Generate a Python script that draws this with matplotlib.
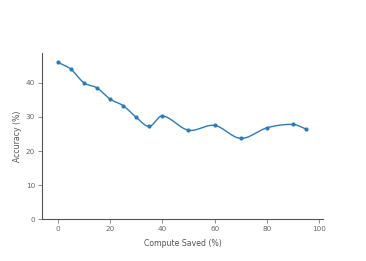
import numpy as np
import matplotlib
matplotlib.use("Agg")
import matplotlib.pyplot as plt

compute_saved = [0, 5, 10, 15, 20, 25, 30, 35, 40, 50, 60, 70, 80, 90, 95]
accuracy = [46.0, 44.0, 40.0, 38.5, 35.2, 33.3, 29.9, 27.2, 30.3, 26.1, 27.5, 23.7, 26.8, 27.8, 26.4]
x_ticks = [0, 20, 40, 60, 80, 100]
y_ticks = [0, 10, 20, 30, 40]


def smooth_curve(xs, ys, n=40):
    # cardinal-style Hermite spline parameterised in x (draws the line only)
    xs = np.asarray(xs, float)
    ys = np.asarray(ys, float)
    m = np.empty_like(ys)
    m[1:-1] = (ys[2:] - ys[:-2]) / (xs[2:] - xs[:-2])
    m[0] = (ys[1] - ys[0]) / (xs[1] - xs[0])
    m[-1] = (ys[-1] - ys[-2]) / (xs[-1] - xs[-2])
    out_x, out_y = [], []
    for i in range(len(xs) - 1):
        h = xs[i + 1] - xs[i]
        t = np.linspace(0, 1, n, endpoint=False)
        h00 = 2 * t**3 - 3 * t**2 + 1
        h10 = t**3 - 2 * t**2 + t
        h01 = -2 * t**3 + 3 * t**2
        h11 = t**3 - t**2
        out_x.extend(xs[i] + t * h)
        out_y.extend(h00 * ys[i] + h10 * h * m[i] + h01 * ys[i + 1] + h11 * h * m[i + 1])
    out_x.append(xs[-1])
    out_y.append(ys[-1])
    return np.array(out_x), np.array(out_y)


fig = plt.figure(figsize=(3.66, 2.61), dpi=100)
ax = fig.add_axes([0.1148, 0.1598, 0.7682, 0.6382])

sx, sy = smooth_curve(compute_saved, accuracy)
color = "#2b7bba"
ax.plot(sx, sy, color=color, lw=1.0)
ax.plot(compute_saved, accuracy, "o", color=color, ms=2.0)

ax.set_xlim(-6, 101.5)
ax.set_ylim(0, 48.8)
ax.set_xticks(x_ticks)
ax.set_yticks(y_ticks)

for s in ["top", "right"]:
    ax.spines[s].set_visible(False)
for s in ["left", "bottom"]:
    ax.spines[s].set_color("#555555")
    ax.spines[s].set_linewidth(0.8)

ax.tick_params(axis="both", length=3, width=0.6, color="#777777",
               labelsize=5.2, labelcolor="#666666", pad=2)
ax.set_xlabel("Compute Saved (%)", fontsize=5.6, color="#555555", labelpad=5)
ax.set_ylabel("Accuracy (%)", fontsize=5.6, color="#555555", labelpad=3)

fig.savefig("out.png", dpi=100)
